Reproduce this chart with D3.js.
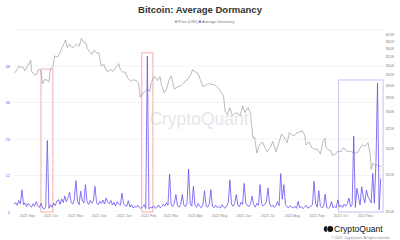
<!DOCTYPE html>
<html>
<head>
    <title>Bitcoin: Average Dormancy</title>
    <meta charset="utf-8">
    <style>
        body { margin: 0; background: #fff; }
        svg { display: block; font-family: "Liberation Sans", Arial, sans-serif; }
    </style>
</head>
<body>

<svg id="svg"></svg>
<script src="https://cdn.jsdelivr.net/npm/d3@7"></script>
<script>
    // BTC price (USD), irregular dates
    const priceDates = [
        '2021-08-16','2021-08-19','2021-08-22','2021-08-24','2021-08-27','2021-08-30','2021-09-02','2021-09-05','2021-09-06','2021-09-07',
        '2021-09-10','2021-09-13','2021-09-16','2021-09-19','2021-09-21','2021-09-24','2021-09-27','2021-09-29','2021-10-01','2021-10-04',
        '2021-10-06','2021-10-10','2021-10-13','2021-10-16','2021-10-20','2021-10-22','2021-10-25','2021-10-28','2021-10-31','2021-11-03',
        '2021-11-06','2021-11-09','2021-11-12','2021-11-15','2021-11-16','2021-11-19','2021-11-22','2021-11-25','2021-11-28','2021-12-01',
        '2021-12-04','2021-12-07','2021-12-10','2021-12-13','2021-12-16','2021-12-19','2021-12-22','2021-12-26','2021-12-28','2021-12-31',
        '2022-01-03','2022-01-06','2022-01-10','2022-01-13','2022-01-17','2022-01-20','2022-01-22','2022-01-24','2022-01-27','2022-01-31',
        '2022-02-03','2022-02-05','2022-02-09','2022-02-10','2022-02-13','2022-02-16','2022-02-18','2022-02-21','2022-02-24','2022-02-28',
        '2022-03-02','2022-03-06','2022-03-10','2022-03-14','2022-03-18','2022-03-22','2022-03-26','2022-03-29','2022-04-02','2022-04-05',
        '2022-04-08','2022-04-11','2022-04-14','2022-04-18','2022-04-21','2022-04-25','2022-04-28','2022-05-01','2022-05-05','2022-05-07',
        '2022-05-09','2022-05-12','2022-05-15','2022-05-18','2022-05-21','2022-05-25','2022-05-28','2022-05-31','2022-06-03','2022-06-07',
        '2022-06-10','2022-06-13','2022-06-15','2022-06-18','2022-06-21','2022-06-25','2022-06-28','2022-07-01','2022-07-05','2022-07-08',
        '2022-07-12','2022-07-15','2022-07-19','2022-07-22','2022-07-26','2022-07-29','2022-08-02','2022-08-05','2022-08-08','2022-08-11',
        '2022-08-14','2022-08-17','2022-08-19','2022-08-23','2022-08-26','2022-08-30','2022-09-02','2022-09-06','2022-09-09','2022-09-12',
        '2022-09-13','2022-09-16','2022-09-19','2022-09-21','2022-09-25','2022-09-28','2022-10-02','2022-10-05','2022-10-09','2022-10-13',
        '2022-10-16','2022-10-20','2022-10-24','2022-10-26','2022-10-29','2022-11-01','2022-11-05','2022-11-08','2022-11-09','2022-11-11',
        '2022-11-14','2022-11-17','2022-11-20','2022-11-22'
    ]
    const priceValues = [
        46000,46800,49300,48900,49000,47000,49300,51800,52700,46800,
        45200,44900,47800,47200,40700,42800,42200,41500,48100,49100,
        55300,54700,57400,60900,65900,60700,63100,60600,61300,62900,
        61500,66900,64200,63600,60100,58100,56300,58900,57200,57000,
        49400,50600,47100,46700,47600,46700,48600,50800,47500,46300,
        46400,43500,41800,42600,42200,40700,35100,36300,37000,38500,
        37300,41400,44300,43600,42200,44000,40000,37000,38300,43200,
        44400,38400,39400,39700,41300,42400,44500,47500,46300,45500,
        42300,39500,39900,40800,40500,40400,39700,38500,36600,35500,
        30100,29000,31300,28700,29400,29500,28600,31800,29700,31400,
        29100,22500,22600,19000,20700,21500,20300,19300,20200,21600,
        19300,20800,23400,22700,21300,23800,23000,23200,23800,24000,
        24300,23300,20800,21500,20200,19800,19900,18800,21400,22400,
        20200,19700,19500,18500,18800,19400,19300,20200,19400,19400,
        19200,19000,19300,20100,20800,20500,21300,18500,15900,17000,
        16600,16700,16300,16600
    ]

    // Average dormancy, one value every 2 days from dormStart
    const dormStart = '2021-08-16'
    const dormStepDays = 2
    const dormancy = [
        2.5, 3.1, 2.2, 3.8, 2.6, 7.3, 2.4, 3.0, 1.8, 2.9,
        2.1, 1.6, 2.7, 1.9, 3.4, 2.2, 1.5, 2.8, 1.3, 0.9,
        1.8, 23.5, 1.2, 2.4, 1.6, 2.9, 2.1, 3.6, 4.0, 2.5,
        4.3, 3.1, 5.2, 3.4, 4.6, 6.5, 3.2, 2.6, 4.1, 10.3,
        3.5, 2.4, 6.8, 3.9, 3.0, 9.0, 3.3, 2.5, 3.8, 2.9,
        3.6, 8.4, 3.1, 2.4, 3.5, 2.8, 3.9, 2.6, 4.6, 3.2,
        2.7, 3.8, 2.3, 3.1, 2.0, 3.4, 2.6, 2.2, 6.2, 2.8,
        2.1, 1.9, 3.7, 1.6, 2.4, 1.3, 1.9, 1.5, 2.2, 1.4,
        1.2, 1.8, 2.4, 1.1, 51.2, 1.0, 1.6, 1.3, 2.0, 1.2,
        1.5, 2.3, 1.4, 1.8, 2.6, 1.9, 3.1, 2.2, 12.5, 2.4,
        1.8, 2.9, 5.7, 2.1, 1.6, 2.5, 5.7, 2.3, 1.7, 3.0,
        14.1, 2.6, 1.9, 8.4, 2.2, 1.5, 2.8, 1.8, 1.4, 2.5,
        7.0, 2.0, 1.6, 2.7, 7.3, 1.9, 1.4, 2.2, 1.5, 1.8,
        1.3, 2.4, 1.7, 1.2, 2.0, 3.1, 10.6, 2.6, 1.9, 2.8,
        5.7, 2.3, 1.7, 3.2, 2.5, 9.4, 3.0, 2.1, 1.8, 2.7,
        5.2, 2.4, 1.6, 2.9, 2.2, 9.0, 2.8, 1.9, 2.5, 3.3,
        7.9, 2.6, 1.8, 2.3, 1.5, 2.0, 3.4, 2.1, 12.6, 4.2,
        9.0, 2.4, 1.7, 1.4, 2.1, 1.6, 1.3, 1.9, 1.2, 3.5,
        1.4, 1.8, 1.1, 1.6, 2.2, 1.3, 1.5, 1.9, 2.4, 10.1,
        2.8, 1.6, 7.0, 2.0, 1.4, 1.8, 5.9, 1.5, 1.2, 1.7,
        3.5, 1.3, 1.9, 1.4, 4.0, 1.6, 2.2, 1.5, 2.6, 1.9,
        2.8, 4.6, 1.7, 2.4, 24.9, 1.5, 7.8, 5.0, 2.3, 8.3,
        5.0, 3.0, 7.2, 5.0, 4.0, 3.0, 12.7, 2.9, 16.0, 42.4,
        0.7, 11.0
    ]

    // highlighted periods: [start, end, top dormancy level, colour]
    const highlights = [
        ['2021-09-19', '2021-10-04', 47, '#f5a3a3'],
        ['2022-01-24', '2022-02-07', 52.3, '#f5a3a3'],
        ['2022-09-29', '2022-11-24', 43.4, '#c8b6ee']
    ]

    const leftTicks = [0, 12, 24, 36, 48, 60]
    const priceTicks = [10000, 15000, 20000, 25000, 30000, 35000, 40000, 45000, 50000, 55000, 60000, 65000, 70000]

    const WIDTH = 400
    const HEIGHT = 240
    const parse = d3.utcParse('%Y-%m-%d')

    const priceData = priceDates.map((d, i) => ({date: parse(d), value: priceValues[i]}))
    const dormData = dormancy.map((v, i) => ({date: d3.utcDay.offset(parse(dormStart), i * dormStepDays), value: v}))

    const svg = d3.select('svg')
        .attr('width', WIDTH)
        .attr('height', HEIGHT)

    const x = d3.scaleUtc()
        .domain([parse('2021-08-16'), parse('2022-11-22')])
        .range([14, 381.5])

    const yDorm = d3.scaleLinear().domain([0, 60]).range([212, 29.5])
    const yPrice = d3.scaleLog().domain([10000, 70000]).range([211.5, 34.5])

    // title + legend
    svg.append('text')
        .attr('x', 200).attr('y', 13)
        .attr('text-anchor', 'middle')
        .attr('font-size', 9.5).attr('font-weight', 'bold')
        .attr('fill', '#333')
        .text('Bitcoin: Average Dormancy')

    const legend = [['Price (USD)', '#8a8a8a', 176], ['Average Dormancy', '#5b4cf5', 200]]
    legend.forEach(([label, color, lx]) => {
        svg.append('circle').attr('cx', lx).attr('cy', 21.7).attr('r', 1.1).attr('fill', color)
        svg.append('text').attr('x', lx + 2).attr('y', 23.1)
            .attr('font-size', 3.8).attr('fill', '#777').text(label)
    })

    // grid lines
    svg.append('g')
        .selectAll('line')
        .data(leftTicks.slice(1))
        .enter().append('line')
        .attr('x1', 14).attr('x2', 383)
        .attr('y1', d => yDorm(d)).attr('y2', d => yDorm(d))
        .attr('stroke', '#ececf0').attr('stroke-width', 0.6)

    // watermark
    svg.append('text')
        .attr('x', 199).attr('y', 125)
        .attr('text-anchor', 'middle')
        .attr('font-size', 17.5)
        .attr('fill', '#e6e6ec')
        .text('CryptoQuant')

    // left axis
    const leftAxis = svg.append('g')
        .attr('transform', 'translate(10,0)')
        .call(d3.axisLeft(yDorm).tickValues(leftTicks.slice(0, -1)).tickSize(0).tickPadding(0))
    leftAxis.select('.domain').remove()
    leftAxis.selectAll('text').attr('font-size', 4).attr('fill', '#6b5cf0').attr('font-family', 'Liberation Sans, Arial, sans-serif')

    // right axis (log)
    const rightAxis = svg.append('g')
        .attr('transform', 'translate(386,0)')
        .call(d3.axisRight(yPrice).tickValues(priceTicks).tickSize(0).tickPadding(0)
            .tickFormat(d => '$' + d / 1000 + 'K'))
    rightAxis.select('.domain').remove()
    rightAxis.selectAll('text').attr('font-size', 3.6).attr('fill', '#888').attr('font-family', 'Liberation Sans, Arial, sans-serif')

    // x axis
    const xAxis = svg.append('g')
        .attr('transform', 'translate(0,213)')
        .call(d3.axisBottom(x).ticks(d3.utcMonth.every(1)).tickSize(0).tickPadding(1.5)
            .tickFormat(d3.utcFormat('%Y %b')))
    xAxis.select('.domain').remove()
    xAxis.selectAll('text').attr('font-size', 3.6).attr('fill', '#888').attr('font-family', 'Liberation Sans, Arial, sans-serif')

    // highlight boxes
    svg.append('g')
        .selectAll('rect')
        .data(highlights)
        .enter().append('rect')
        .attr('x', d => x(parse(d[0])))
        .attr('width', d => x(parse(d[1])) - x(parse(d[0])))
        .attr('y', d => yDorm(d[2]))
        .attr('height', d => yDorm(0) - yDorm(d[2]))
        .attr('fill', 'none')
        .attr('stroke', d => d[3])
        .attr('stroke-width', 0.9)

    // price line
    svg.append('path')
        .datum(priceData)
        .attr('fill', 'none')
        .attr('stroke', '#8c8c8c')
        .attr('stroke-width', 0.6)
        .attr('d', d3.line().x(d => x(d.date)).y(d => yPrice(d.value)))

    // dormancy line
    svg.append('path')
        .datum(dormData)
        .attr('fill', 'none')
        .attr('stroke', '#6652f2')
        .attr('stroke-width', 0.8)
        .attr('stroke-linejoin', 'round')
        .attr('d', d3.line().x(d => x(d.date)).y(d => yDorm(d.value)))

    // logo
    const logo = svg.append('g').attr('transform', 'translate(328,229)')
    logo.append('circle').attr('cx', 2.2).attr('cy', 0).attr('r', 3).attr('fill', '#111')
    logo.append('path').attr('d', 'M -1.2 -3 A 3 3 0 0 0 -1.2 3 L -1.2 -3 Z').attr('fill', '#111')
    svg.append('text')
        .attr('x', 334).attr('y', 232.2)
        .attr('font-size', 8.6)
        .attr('fill', '#111')
        .text('CryptoQuant')
    svg.append('text')
        .attr('x', 390).attr('y', 238.5)
        .attr('text-anchor', 'end')
        .attr('font-size', 3.2)
        .attr('fill', '#888')
        .text('© 2022. CryptoQuant. All rights reserved.')
</script>
</body>
</html>
